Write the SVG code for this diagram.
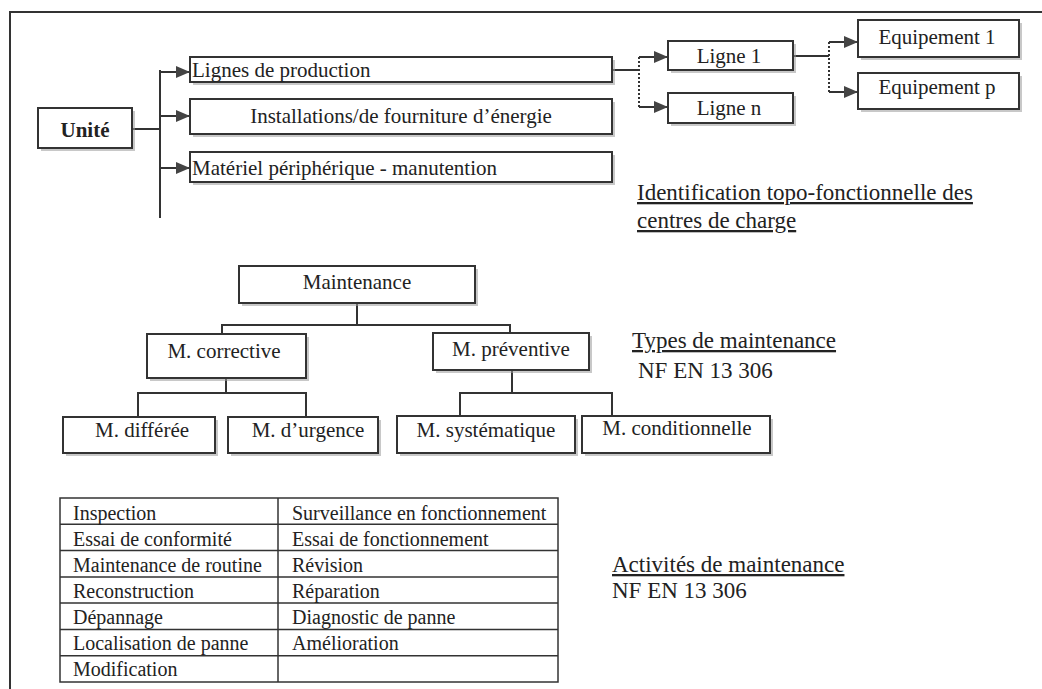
<svg xmlns="http://www.w3.org/2000/svg" width="1042" height="689" viewBox="0 0 1042 689">
<style>
  .bx { fill: #fff; stroke: #333; stroke-width: 2; }
  .sh { fill: #9a9a9a; opacity: 0.55; }
  .t { font-family: "Liberation Serif", "Times New Roman", serif; font-size: 21px; fill: #222; }
  .tc { text-anchor: middle; }
  .tt { font-family: "Liberation Serif", "Times New Roman", serif; font-size: 20px; fill: #222; }
  .cap { font-family: "Liberation Serif", "Times New Roman", serif; font-size: 23px; fill: #222; }
  .ul { text-decoration: underline; }
  .ln { stroke: #333; stroke-width: 2; fill: none; }
  .dt { stroke: #333; stroke-width: 2; fill: none; stroke-dasharray: 2 2; }
  .tb { stroke: #333; stroke-width: 1.5; fill: none; }
</style>
<defs>
  <marker id="ah" markerUnits="userSpaceOnUse" markerWidth="14" markerHeight="12" refX="14" refY="6" orient="auto">
    <path d="M0,0 L14,6 L0,12 Z" fill="#444"/>
  </marker>
</defs>
<rect width="1042" height="689" fill="#fff"/>
<!-- frame -->
<path d="M10,689 L10,12 L1042,12" class="ln" stroke-width="2.5"/>

<g id="connectors">
  <!-- Unite tree -->
  <line x1="132" y1="129" x2="160" y2="129" class="ln"/>
  <line x1="160" y1="70" x2="160" y2="218" class="ln"/>
  <line x1="159" y1="72" x2="190" y2="72" class="ln" marker-end="url(#ah)"/>
  <line x1="159" y1="116" x2="190" y2="116" class="ln" marker-end="url(#ah)"/>
  <line x1="159" y1="168" x2="190" y2="168" class="ln" marker-end="url(#ah)"/>
  <!-- lignes -->
  <line x1="612" y1="70" x2="639" y2="70" class="ln"/>
  <line x1="639" y1="57" x2="639" y2="107" class="dt"/>
  <line x1="639" y1="57" x2="668" y2="57" class="ln" marker-end="url(#ah)"/>
  <line x1="639" y1="107" x2="668" y2="107" class="ln" marker-end="url(#ah)"/>
  <!-- equipements -->
  <line x1="793" y1="56" x2="829" y2="56" class="ln"/>
  <line x1="829" y1="42" x2="829" y2="92" class="dt"/>
  <line x1="829" y1="42" x2="858" y2="42" class="ln" marker-end="url(#ah)"/>
  <line x1="829" y1="92" x2="858" y2="92" class="ln" marker-end="url(#ah)"/>
  <!-- maintenance tree -->
  <path d="M357,303 V325 M222,334 V325 H510 V334" class="ln"/>
  <path d="M226,378 V393 M138,417 V393 H306 V417" class="ln"/>
  <path d="M512,370 V393 M460,416 V393 H612 V416" class="ln"/>
</g>

<g id="unite">
  <rect x="41" y="111" width="94" height="40" class="sh"/>
  <rect x="38" y="108" width="94" height="40" class="bx"/>
  <text x="85" y="137" class="t tc" font-weight="bold" font-size="20">Unité</text>
</g>
<g id="lignes-production">
  <rect x="193" y="60" width="422" height="25" class="sh"/>
  <rect x="190" y="57" width="422" height="25" class="bx"/>
  <text x="192" y="77" class="t">Lignes de production</text>
</g>
<g id="installations">
  <rect x="193" y="102" width="422" height="35" class="sh"/>
  <rect x="190" y="99" width="422" height="35" class="bx"/>
  <text x="401" y="123" class="t tc">Installations/de fourniture d’énergie</text>
</g>
<g id="materiel">
  <rect x="193" y="155" width="422" height="30" class="sh"/>
  <rect x="190" y="152" width="422" height="30" class="bx"/>
  <text x="192" y="175" class="t">Matériel périphérique - manutention</text>
</g>
<g id="ligne1">
  <rect x="671" y="44" width="125" height="29" class="sh"/>
  <rect x="668" y="41" width="125" height="29" class="bx"/>
  <text x="729" y="63" class="t tc">Ligne 1</text>
</g>
<g id="lignen">
  <rect x="671" y="96" width="125" height="30" class="sh"/>
  <rect x="668" y="93" width="125" height="30" class="bx"/>
  <text x="729" y="115" class="t tc">Ligne n</text>
</g>
<g id="equip1">
  <rect x="861" y="23" width="161" height="37" class="sh"/>
  <rect x="858" y="20" width="161" height="37" class="bx"/>
  <text x="937" y="44" class="t tc">Equipement  1</text>
</g>
<g id="equipp">
  <rect x="861" y="76" width="161" height="36" class="sh"/>
  <rect x="858" y="73" width="161" height="36" class="bx"/>
  <text x="937" y="94" class="t tc">Equipement  p</text>
</g>
<g id="caption-identification">
  <text x="637" y="200" class="cap ul">Identification topo-fonctionnelle des</text>
  <text x="637" y="228" class="cap ul">centres de charge</text>
</g>

<g id="maintenance">
  <rect x="242" y="269" width="236" height="37" class="sh"/>
  <rect x="239" y="266" width="236" height="37" class="bx"/>
  <text x="357" y="289" class="t tc">Maintenance</text>
</g>
<g id="corrective">
  <rect x="150" y="337" width="159" height="44" class="sh"/>
  <rect x="147" y="334" width="159" height="44" class="bx"/>
  <text x="224" y="358" class="t tc">M.  corrective</text>
</g>
<g id="preventive">
  <rect x="436" y="336" width="156" height="37" class="sh"/>
  <rect x="433" y="333" width="156" height="37" class="bx"/>
  <text x="511" y="356" class="t tc">M.  préventive</text>
</g>
<g id="differee">
  <rect x="66" y="420" width="152" height="36" class="sh"/>
  <rect x="63" y="417" width="152" height="36" class="bx"/>
  <text x="142" y="437" class="t tc">M. différée</text>
</g>
<g id="urgence">
  <rect x="231" y="420" width="150" height="36" class="sh"/>
  <rect x="228" y="417" width="150" height="36" class="bx"/>
  <text x="308" y="437" class="t tc">M.  d’urgence</text>
</g>
<g id="systematique">
  <rect x="400" y="419" width="178" height="37" class="sh"/>
  <rect x="397" y="416" width="178" height="37" class="bx"/>
  <text x="486" y="437" class="t tc">M. systématique</text>
</g>
<g id="conditionnelle">
  <rect x="585" y="419" width="188" height="37" class="sh"/>
  <rect x="582" y="416" width="188" height="37" class="bx"/>
  <text x="677" y="435" class="t tc">M. conditionnelle</text>
</g>
<g id="caption-types">
  <text x="632" y="348" class="cap ul">Types de maintenance</text>
  <text x="638" y="378" class="cap">NF EN 13 306</text>
</g>

<g id="table">
  <rect x="60" y="498" width="498" height="184" class="tb"/>
  <line x1="278" y1="498" x2="278" y2="682" class="tb"/>
  <path d="M60,524.3 H558 M60,550.6 H558 M60,576.9 H558 M60,603.1 H558 M60,629.4 H558 M60,655.7 H558" class="tb" stroke-width="1.2"/>
  <g class="tt">
    <text x="73" y="520">Inspection</text>
    <text x="73" y="546">Essai de conformité</text>
    <text x="73" y="572">Maintenance de routine</text>
    <text x="73" y="598">Reconstruction</text>
    <text x="73" y="624">Dépannage</text>
    <text x="73" y="650">Localisation de panne</text>
    <text x="73" y="676">Modification</text>
    <text x="292" y="520">Surveillance en fonctionnement</text>
    <text x="292" y="546">Essai de fonctionnement</text>
    <text x="292" y="572">Révision</text>
    <text x="292" y="598">Réparation</text>
    <text x="292" y="624">Diagnostic de panne</text>
    <text x="292" y="650">Amélioration</text>
  </g>
</g>
<g id="caption-activites">
  <text x="612" y="572" class="cap ul">Activités de maintenance</text>
  <text x="612" y="598" class="cap">NF EN 13 306</text>
</g>
</svg>
